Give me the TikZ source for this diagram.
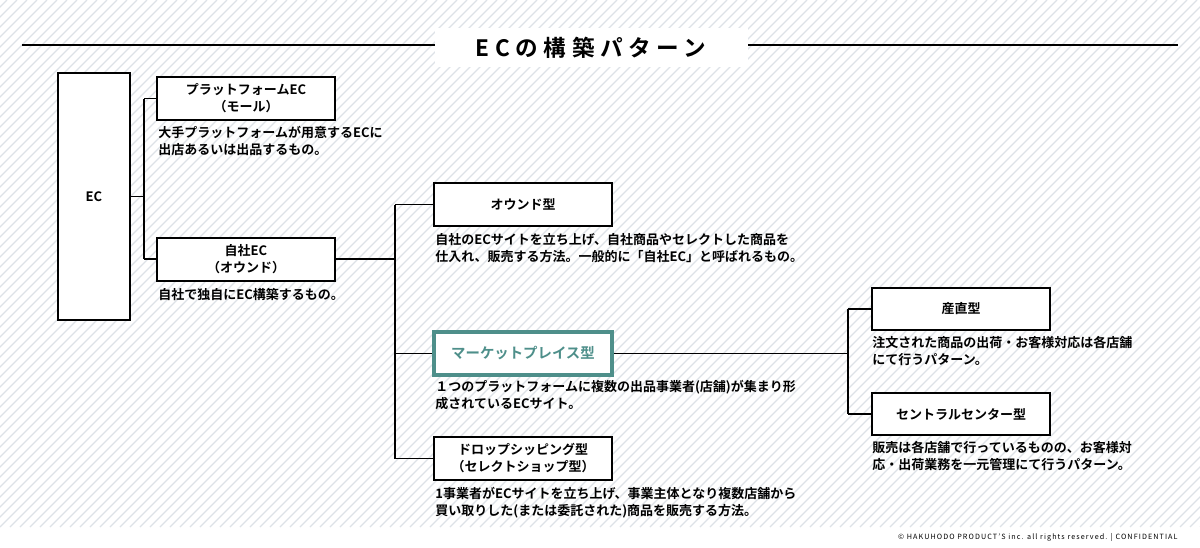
\documentclass[tikz,border=0pt]{standalone}
\usepackage{fontspec}
\setmainfont{Noto Sans CJK JP}
\newfontfamily\jpb{Noto Sans CJK JP Bold}
\definecolor{teal1}{HTML}{4E8F8A}
\definecolor{hatch}{HTML}{DDE2E7}
\begin{document}
\begin{tikzpicture}[x=0.5pt,y=-0.5pt,
 box/.style={draw,line width=1pt,fill=white,minimum width=89pt,minimum height=21.5pt,inner sep=0pt,align=center,font=\fontsize{6.5}{8.5}\selectfont\jpb},
 desc/.style={anchor=north west,inner sep=0pt,align=left,font=\fontsize{6.5}{8.6}\selectfont\jpb},
 ln/.style={line width=0.9pt}]
\useasboundingbox (0,0) rectangle (1200,547);
\fill[white] (0,0) rectangle (1200,547);
\begin{scope}
\clip (0,0) rectangle (1200,527);
\foreach \i in {-540,-530,...,1200} \draw[hatch,line width=0.6pt] (\i,527) -- (\i+527,0);
\end{scope}
% title
\draw[ln] (22,45) -- (435,45);
\draw[ln] (748,45) -- (1178,45);
\fill[white] (435,28) rectangle (748,67);
\node[font=\fontsize{11.3}{12}\selectfont\jpb] (title) at (591,48) {\addfontfeature{LetterSpace=25}ECの構築パターン};
% boxes
\node[box,minimum width=36pt,minimum height=123.5pt] (ec) at (94,196.5) {EC};
\node[box] (pf) at (246,98.5) {プラットフォームEC\\（モール）};
\node[box] (own) at (246,259) {自社EC\\（オウンド）};
\node[box] (ow) at (523,204.5) {オウンド型};
\node[box,draw=teal1,line width=1.8pt,text=teal1,font=\fontsize{7.2}{9}\selectfont\jpb] (mp) at (523,353.5) {マーケットプレイス型};
\node[box] (ds) at (523,458.5) {ドロップシッピング型\\（セレクトショップ型）};
\node[box,minimum height=21pt] (sc) at (961,309) {産直型};
\node[box,minimum height=21pt] (cc) at (961,414) {セントラルセンター型};
% descriptions
\node[desc] (d1) at (158,126) {大手プラットフォームが用意するECに\\出店あるいは出品するもの。};
\node[desc] (d2) at (158,288) {自社で独自にEC構築するもの。};
\node[desc] (d3) at (435,233) {自社のECサイトを立ち上げ、自社商品やセレクトした商品を\\仕入れ、販売する方法。一般的に「自社EC」と呼ばれるもの。};
\node[desc] (d4) at (435,380) {１つのプラットフォームに複数の出品事業者(店舗)が集まり形\\成されているECサイト。};
\node[desc] (d5) at (435,487) {1事業者がECサイトを立ち上げ、事業主体となり複数店舗から\\買い取りした(または委託された)商品を販売する方法。};
\node[desc] (d6) at (872,336) {注文された商品の出荷・お客様対応は各店舗\\にて行うパターン。};
\node[desc] (d7) at (872,441) {販売は各店舗で行っているものの、お客様対\\応・出荷業務を一元管理にて行うパターン。};
% connectors
\coordinate (t1) at (144,0);
\coordinate (t2) at (395,0);
\coordinate (t3) at (848,0);
\draw[ln] (ec.east) -- (ec.east -| t1);
\draw[ln] (pf.west -| t1) -- (own.west -| t1);
\draw[ln] (pf.west -| t1) -- (pf.west);
\draw[ln] (own.west -| t1) -- (own.west);
\draw[ln] (own.east) -- (own.east -| t2);
\draw[ln] (ow.west -| t2) -- (ds.west -| t2);
\draw[ln] (ow.west -| t2) -- (ow.west);
\draw[ln] (mp.west -| t2) -- (mp.west);
\draw[ln] (ds.west -| t2) -- (ds.west);
\draw[ln] (mp.east) -- (mp.east -| t3);
\draw[ln] (sc.west -| t3) -- (cc.west -| t3);
\draw[ln] (sc.west -| t3) -- (sc.west);
\draw[ln] (cc.west -| t3) -- (cc.west);
\node[anchor=east,inner sep=0pt,font=\fontsize{3.6}{4}\selectfont] (cr) at (1178,537) {\addfontfeature{LetterSpace=15}© HAKUHODO PRODUCT'S inc. all rights reserved. | CONFIDENTIAL};
\end{tikzpicture}
\end{document}
